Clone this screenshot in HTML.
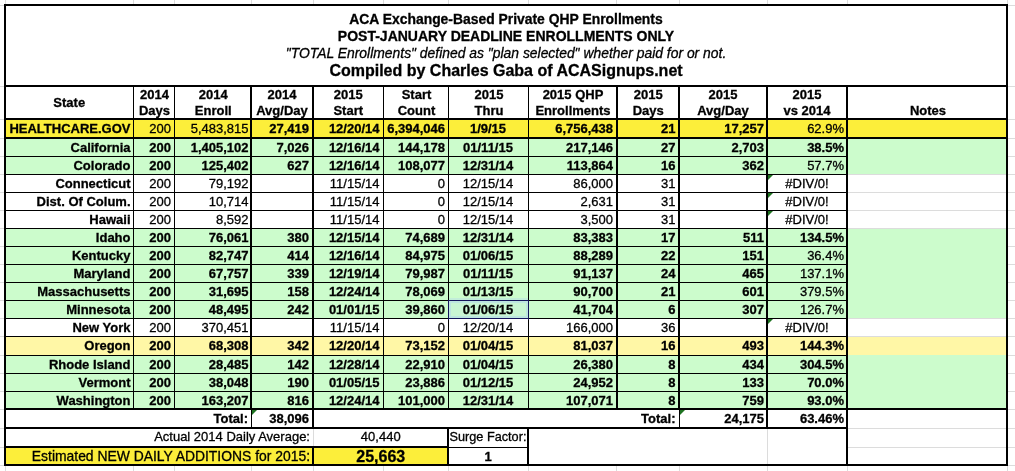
<!DOCTYPE html>
<html><head><meta charset="utf-8"><style>
html,body{margin:0;padding:0;background:#fff;width:1015px;height:471px;overflow:hidden}
body{position:relative;font-family:"Liberation Sans", sans-serif;color:#000}
body>div{position:absolute;box-sizing:content-box}
.t{white-space:nowrap;overflow:visible;will-change:transform;-webkit-text-stroke:0.3px #000}
</style></head><body>
<div style="left:0px;top:5px;width:4px;height:1px;background:#dcdcdc"></div>
<div style="left:1008px;top:5px;width:7px;height:1px;background:#dcdcdc"></div>
<div style="left:0px;top:86px;width:4px;height:1px;background:#dcdcdc"></div>
<div style="left:1008px;top:86px;width:7px;height:1px;background:#dcdcdc"></div>
<div style="left:0px;top:119px;width:4px;height:1px;background:#dcdcdc"></div>
<div style="left:1008px;top:119px;width:7px;height:1px;background:#dcdcdc"></div>
<div style="left:0px;top:138px;width:4px;height:1px;background:#dcdcdc"></div>
<div style="left:1008px;top:138px;width:7px;height:1px;background:#dcdcdc"></div>
<div style="left:0px;top:156px;width:4px;height:1px;background:#dcdcdc"></div>
<div style="left:1008px;top:156px;width:7px;height:1px;background:#dcdcdc"></div>
<div style="left:0px;top:174px;width:4px;height:1px;background:#dcdcdc"></div>
<div style="left:1008px;top:174px;width:7px;height:1px;background:#dcdcdc"></div>
<div style="left:0px;top:192px;width:4px;height:1px;background:#dcdcdc"></div>
<div style="left:1008px;top:192px;width:7px;height:1px;background:#dcdcdc"></div>
<div style="left:0px;top:210px;width:4px;height:1px;background:#dcdcdc"></div>
<div style="left:1008px;top:210px;width:7px;height:1px;background:#dcdcdc"></div>
<div style="left:0px;top:228px;width:4px;height:1px;background:#dcdcdc"></div>
<div style="left:1008px;top:228px;width:7px;height:1px;background:#dcdcdc"></div>
<div style="left:0px;top:246px;width:4px;height:1px;background:#dcdcdc"></div>
<div style="left:1008px;top:246px;width:7px;height:1px;background:#dcdcdc"></div>
<div style="left:0px;top:264px;width:4px;height:1px;background:#dcdcdc"></div>
<div style="left:1008px;top:264px;width:7px;height:1px;background:#dcdcdc"></div>
<div style="left:0px;top:282px;width:4px;height:1px;background:#dcdcdc"></div>
<div style="left:1008px;top:282px;width:7px;height:1px;background:#dcdcdc"></div>
<div style="left:0px;top:300px;width:4px;height:1px;background:#dcdcdc"></div>
<div style="left:1008px;top:300px;width:7px;height:1px;background:#dcdcdc"></div>
<div style="left:0px;top:318px;width:4px;height:1px;background:#dcdcdc"></div>
<div style="left:1008px;top:318px;width:7px;height:1px;background:#dcdcdc"></div>
<div style="left:0px;top:336px;width:4px;height:1px;background:#dcdcdc"></div>
<div style="left:1008px;top:336px;width:7px;height:1px;background:#dcdcdc"></div>
<div style="left:0px;top:355px;width:4px;height:1px;background:#dcdcdc"></div>
<div style="left:1008px;top:355px;width:7px;height:1px;background:#dcdcdc"></div>
<div style="left:0px;top:373px;width:4px;height:1px;background:#dcdcdc"></div>
<div style="left:1008px;top:373px;width:7px;height:1px;background:#dcdcdc"></div>
<div style="left:0px;top:391px;width:4px;height:1px;background:#dcdcdc"></div>
<div style="left:1008px;top:391px;width:7px;height:1px;background:#dcdcdc"></div>
<div style="left:0px;top:409px;width:4px;height:1px;background:#dcdcdc"></div>
<div style="left:1008px;top:409px;width:7px;height:1px;background:#dcdcdc"></div>
<div style="left:0px;top:428px;width:4px;height:1px;background:#dcdcdc"></div>
<div style="left:1008px;top:428px;width:7px;height:1px;background:#dcdcdc"></div>
<div style="left:0px;top:447px;width:4px;height:1px;background:#dcdcdc"></div>
<div style="left:1008px;top:447px;width:7px;height:1px;background:#dcdcdc"></div>
<div style="left:0px;top:465px;width:4px;height:1px;background:#dcdcdc"></div>
<div style="left:1008px;top:465px;width:7px;height:1px;background:#dcdcdc"></div>
<div style="left:5px;top:0px;width:1px;height:4px;background:#dcdcdc"></div>
<div style="left:5px;top:466px;width:1px;height:5px;background:#dcdcdc"></div>
<div style="left:133px;top:0px;width:1px;height:4px;background:#dcdcdc"></div>
<div style="left:133px;top:466px;width:1px;height:5px;background:#dcdcdc"></div>
<div style="left:174px;top:0px;width:1px;height:4px;background:#dcdcdc"></div>
<div style="left:174px;top:466px;width:1px;height:5px;background:#dcdcdc"></div>
<div style="left:251px;top:0px;width:1px;height:4px;background:#dcdcdc"></div>
<div style="left:251px;top:466px;width:1px;height:5px;background:#dcdcdc"></div>
<div style="left:313px;top:0px;width:1px;height:4px;background:#dcdcdc"></div>
<div style="left:313px;top:466px;width:1px;height:5px;background:#dcdcdc"></div>
<div style="left:383px;top:0px;width:1px;height:4px;background:#dcdcdc"></div>
<div style="left:383px;top:466px;width:1px;height:5px;background:#dcdcdc"></div>
<div style="left:448px;top:0px;width:1px;height:4px;background:#dcdcdc"></div>
<div style="left:448px;top:466px;width:1px;height:5px;background:#dcdcdc"></div>
<div style="left:528px;top:0px;width:1px;height:4px;background:#dcdcdc"></div>
<div style="left:528px;top:466px;width:1px;height:5px;background:#dcdcdc"></div>
<div style="left:616px;top:0px;width:1px;height:4px;background:#dcdcdc"></div>
<div style="left:616px;top:466px;width:1px;height:5px;background:#dcdcdc"></div>
<div style="left:679px;top:0px;width:1px;height:4px;background:#dcdcdc"></div>
<div style="left:679px;top:466px;width:1px;height:5px;background:#dcdcdc"></div>
<div style="left:767px;top:0px;width:1px;height:4px;background:#dcdcdc"></div>
<div style="left:767px;top:466px;width:1px;height:5px;background:#dcdcdc"></div>
<div style="left:847px;top:0px;width:1px;height:4px;background:#dcdcdc"></div>
<div style="left:847px;top:466px;width:1px;height:5px;background:#dcdcdc"></div>
<div style="left:1007px;top:0px;width:1px;height:4px;background:#dcdcdc"></div>
<div style="left:1007px;top:466px;width:1px;height:5px;background:#dcdcdc"></div>
<div style="left:5.00px;top:5.00px;width:1002.00px;height:81.00px;background:#ffffff"></div>
<div class="t" style="left:5.00px;top:10.00px;width:1002.00px;height:18.00px;line-height:18.00px;text-align:center;font-weight:bold;font-style:normal;font-size:13.9px">ACA Exchange-Based Private QHP Enrollments</div>
<div class="t" style="left:5.00px;top:27.00px;width:1002.00px;height:18.00px;line-height:18.00px;text-align:center;font-weight:bold;font-style:normal;font-size:14px">POST-JANUARY DEADLINE ENROLLMENTS ONLY</div>
<div class="t" style="left:5.00px;top:43.70px;width:1002.00px;height:18.00px;line-height:18.00px;text-align:center;font-weight:normal;font-style:italic;font-size:13.9px">&quot;TOTAL Enrollments&quot; defined as &quot;plan selected&quot; whether paid for or not.</div>
<div class="t" style="left:5.00px;top:61.00px;width:1002.00px;height:20.00px;line-height:20.00px;text-align:center;font-weight:bold;font-style:normal;font-size:16px">Compiled by Charles Gaba of ACASignups.net</div>
<div style="left:5.00px;top:86.00px;width:1002.00px;height:33.00px;background:#ffffff"></div>
<div class="t" style="left:5.00px;top:86.00px;width:128.50px;height:33.00px;line-height:33.00px;text-align:center;font-weight:bold;font-style:normal;font-size:13px;color:#000">State</div>
<div class="t" style="left:133.50px;top:87.00px;width:41.00px;height:16.00px;line-height:16.00px;text-align:center;font-weight:bold;font-style:normal;font-size:13px;color:#000">2014</div>
<div class="t" style="left:133.50px;top:102.50px;width:41.00px;height:16.50px;line-height:16.50px;text-align:center;font-weight:bold;font-style:normal;font-size:13px;color:#000">Days</div>
<div class="t" style="left:174.50px;top:87.00px;width:76.50px;height:16.00px;line-height:16.00px;text-align:center;font-weight:bold;font-style:normal;font-size:13px;color:#000">2014</div>
<div class="t" style="left:174.50px;top:102.50px;width:76.50px;height:16.50px;line-height:16.50px;text-align:center;font-weight:bold;font-style:normal;font-size:13px;color:#000">Enroll</div>
<div class="t" style="left:251.00px;top:87.00px;width:62.00px;height:16.00px;line-height:16.00px;text-align:center;font-weight:bold;font-style:normal;font-size:13px;color:#000">2014</div>
<div class="t" style="left:251.00px;top:102.50px;width:62.00px;height:16.50px;line-height:16.50px;text-align:center;font-weight:bold;font-style:normal;font-size:13px;color:#000">Avg/Day</div>
<div class="t" style="left:313.00px;top:87.00px;width:70.50px;height:16.00px;line-height:16.00px;text-align:center;font-weight:bold;font-style:normal;font-size:13px;color:#000">2015</div>
<div class="t" style="left:313.00px;top:102.50px;width:70.50px;height:16.50px;line-height:16.50px;text-align:center;font-weight:bold;font-style:normal;font-size:13px;color:#000">Start</div>
<div class="t" style="left:383.50px;top:87.00px;width:65.00px;height:16.00px;line-height:16.00px;text-align:center;font-weight:bold;font-style:normal;font-size:13px;color:#000">Start</div>
<div class="t" style="left:383.50px;top:102.50px;width:65.00px;height:16.50px;line-height:16.50px;text-align:center;font-weight:bold;font-style:normal;font-size:13px;color:#000">Count</div>
<div class="t" style="left:448.50px;top:87.00px;width:80.00px;height:16.00px;line-height:16.00px;text-align:center;font-weight:bold;font-style:normal;font-size:13px;color:#000">2015</div>
<div class="t" style="left:448.50px;top:102.50px;width:80.00px;height:16.50px;line-height:16.50px;text-align:center;font-weight:bold;font-style:normal;font-size:13px;color:#000">Thru</div>
<div class="t" style="left:528.50px;top:87.00px;width:88.00px;height:16.00px;line-height:16.00px;text-align:center;font-weight:bold;font-style:normal;font-size:13px;color:#000">2015 QHP</div>
<div class="t" style="left:528.50px;top:102.50px;width:88.00px;height:16.50px;line-height:16.50px;text-align:center;font-weight:bold;font-style:normal;font-size:13px;color:#000">Enrollments</div>
<div class="t" style="left:616.50px;top:87.00px;width:62.50px;height:16.00px;line-height:16.00px;text-align:center;font-weight:bold;font-style:normal;font-size:13px;color:#000">2015</div>
<div class="t" style="left:616.50px;top:102.50px;width:62.50px;height:16.50px;line-height:16.50px;text-align:center;font-weight:bold;font-style:normal;font-size:13px;color:#000">Days</div>
<div class="t" style="left:679.00px;top:87.00px;width:88.00px;height:16.00px;line-height:16.00px;text-align:center;font-weight:bold;font-style:normal;font-size:13px;color:#000">2015</div>
<div class="t" style="left:679.00px;top:102.50px;width:88.00px;height:16.50px;line-height:16.50px;text-align:center;font-weight:bold;font-style:normal;font-size:13px;color:#000">Avg/Day</div>
<div class="t" style="left:767.00px;top:87.00px;width:80.00px;height:16.00px;line-height:16.00px;text-align:center;font-weight:bold;font-style:normal;font-size:13px;color:#000">2015</div>
<div class="t" style="left:767.00px;top:102.50px;width:80.00px;height:16.50px;line-height:16.50px;text-align:center;font-weight:bold;font-style:normal;font-size:13px;color:#000">vs 2014</div>
<div class="t" style="left:847.00px;top:87.00px;width:160.00px;height:16.00px;line-height:16.00px;text-align:center;font-weight:bold;font-style:normal;font-size:13px;color:#000"></div>
<div class="t" style="left:848.00px;top:102.50px;width:160.00px;height:16.50px;line-height:16.50px;text-align:center;font-weight:bold;font-style:normal;font-size:13px;color:#000">Notes</div>
<div style="left:5.00px;top:119.00px;width:1002.00px;height:19.00px;background:#fcee3a"></div>
<div class="t" style="left:5.00px;top:119.50px;width:125.50px;height:18.00px;line-height:18.00px;text-align:right;font-weight:bold;font-style:normal;font-size:13px;padding-right:3px;color:#000">HEALTHCARE.GOV</div>
<div class="t" style="left:133.50px;top:119.50px;width:37.00px;height:18.00px;line-height:18.00px;text-align:right;font-weight:normal;font-style:normal;font-size:13px;padding-right:4px;color:#000">200</div>
<div class="t" style="left:174.50px;top:119.50px;width:73.50px;height:18.00px;line-height:18.00px;text-align:right;font-weight:normal;font-style:normal;font-size:13px;padding-right:3px;color:#000">5,483,815</div>
<div class="t" style="left:251.00px;top:119.50px;width:58.00px;height:18.00px;line-height:18.00px;text-align:right;font-weight:bold;font-style:normal;font-size:13px;padding-right:4px;color:#000">27,419</div>
<div class="t" style="left:313.00px;top:119.50px;width:66.50px;height:18.00px;line-height:18.00px;text-align:right;font-weight:bold;font-style:normal;font-size:13px;padding-right:4px;color:#000">12/20/14</div>
<div class="t" style="left:383.50px;top:119.50px;width:61.00px;height:18.00px;line-height:18.00px;text-align:right;font-weight:bold;font-style:normal;font-size:13px;padding-right:4px;color:#000">6,394,046</div>
<div class="t" style="left:447.50px;top:119.50px;width:80.00px;height:18.00px;line-height:18.00px;text-align:center;font-weight:bold;font-style:normal;font-size:13px;color:#000">1/9/15</div>
<div class="t" style="left:528.50px;top:119.50px;width:84.00px;height:18.00px;line-height:18.00px;text-align:right;font-weight:bold;font-style:normal;font-size:13px;padding-right:4px;color:#000">6,756,438</div>
<div class="t" style="left:616.50px;top:119.50px;width:58.50px;height:18.00px;line-height:18.00px;text-align:right;font-weight:bold;font-style:normal;font-size:13px;padding-right:4px;color:#000">21</div>
<div class="t" style="left:679.00px;top:119.50px;width:85.00px;height:18.00px;line-height:18.00px;text-align:right;font-weight:bold;font-style:normal;font-size:13px;padding-right:3px;color:#000">17,257</div>
<div class="t" style="left:767.00px;top:119.50px;width:77.00px;height:18.00px;line-height:18.00px;text-align:right;font-weight:normal;font-style:normal;font-size:13px;padding-right:3px;color:#000">62.9%</div>
<div style="left:5.00px;top:138.00px;width:1002.00px;height:18.09px;background:#ccfccc"></div>
<div class="t" style="left:5.00px;top:138.50px;width:125.50px;height:18.00px;line-height:18.00px;text-align:right;font-weight:bold;font-style:normal;font-size:13px;padding-right:3px;color:#000">California</div>
<div class="t" style="left:133.50px;top:138.50px;width:37.00px;height:18.00px;line-height:18.00px;text-align:right;font-weight:bold;font-style:normal;font-size:13px;padding-right:4px;color:#000">200</div>
<div class="t" style="left:174.50px;top:138.50px;width:73.50px;height:18.00px;line-height:18.00px;text-align:right;font-weight:bold;font-style:normal;font-size:13px;padding-right:3px;color:#000">1,405,102</div>
<div class="t" style="left:251.00px;top:138.50px;width:58.00px;height:18.00px;line-height:18.00px;text-align:right;font-weight:bold;font-style:normal;font-size:13px;padding-right:4px;color:#000">7,026</div>
<div class="t" style="left:313.00px;top:138.50px;width:66.50px;height:18.00px;line-height:18.00px;text-align:right;font-weight:bold;font-style:normal;font-size:13px;padding-right:4px;color:#000">12/16/14</div>
<div class="t" style="left:383.50px;top:138.50px;width:61.00px;height:18.00px;line-height:18.00px;text-align:right;font-weight:bold;font-style:normal;font-size:13px;padding-right:4px;color:#000">144,178</div>
<div class="t" style="left:447.50px;top:138.50px;width:80.00px;height:18.00px;line-height:18.00px;text-align:center;font-weight:bold;font-style:normal;font-size:13px;color:#000">01/11/15</div>
<div class="t" style="left:528.50px;top:138.50px;width:84.00px;height:18.00px;line-height:18.00px;text-align:right;font-weight:bold;font-style:normal;font-size:13px;padding-right:4px;color:#000">217,146</div>
<div class="t" style="left:616.50px;top:138.50px;width:58.50px;height:18.00px;line-height:18.00px;text-align:right;font-weight:bold;font-style:normal;font-size:13px;padding-right:4px;color:#000">27</div>
<div class="t" style="left:679.00px;top:138.50px;width:85.00px;height:18.00px;line-height:18.00px;text-align:right;font-weight:bold;font-style:normal;font-size:13px;padding-right:3px;color:#000">2,703</div>
<div class="t" style="left:767.00px;top:138.50px;width:77.00px;height:18.00px;line-height:18.00px;text-align:right;font-weight:bold;font-style:normal;font-size:13px;padding-right:3px;color:#000">38.5%</div>
<div style="left:5.00px;top:156.09px;width:1002.00px;height:18.09px;background:#ccfccc"></div>
<div class="t" style="left:5.00px;top:156.59px;width:125.50px;height:18.00px;line-height:18.00px;text-align:right;font-weight:bold;font-style:normal;font-size:13px;padding-right:3px;color:#000">Colorado</div>
<div class="t" style="left:133.50px;top:156.59px;width:37.00px;height:18.00px;line-height:18.00px;text-align:right;font-weight:bold;font-style:normal;font-size:13px;padding-right:4px;color:#000">200</div>
<div class="t" style="left:174.50px;top:156.59px;width:73.50px;height:18.00px;line-height:18.00px;text-align:right;font-weight:bold;font-style:normal;font-size:13px;padding-right:3px;color:#000">125,402</div>
<div class="t" style="left:251.00px;top:156.59px;width:58.00px;height:18.00px;line-height:18.00px;text-align:right;font-weight:bold;font-style:normal;font-size:13px;padding-right:4px;color:#000">627</div>
<div class="t" style="left:313.00px;top:156.59px;width:66.50px;height:18.00px;line-height:18.00px;text-align:right;font-weight:bold;font-style:normal;font-size:13px;padding-right:4px;color:#000">12/16/14</div>
<div class="t" style="left:383.50px;top:156.59px;width:61.00px;height:18.00px;line-height:18.00px;text-align:right;font-weight:bold;font-style:normal;font-size:13px;padding-right:4px;color:#000">108,077</div>
<div class="t" style="left:447.50px;top:156.59px;width:80.00px;height:18.00px;line-height:18.00px;text-align:center;font-weight:bold;font-style:normal;font-size:13px;color:#000">12/31/14</div>
<div class="t" style="left:528.50px;top:156.59px;width:84.00px;height:18.00px;line-height:18.00px;text-align:right;font-weight:bold;font-style:normal;font-size:13px;padding-right:4px;color:#000">113,864</div>
<div class="t" style="left:616.50px;top:156.59px;width:58.50px;height:18.00px;line-height:18.00px;text-align:right;font-weight:bold;font-style:normal;font-size:13px;padding-right:4px;color:#000">16</div>
<div class="t" style="left:679.00px;top:156.59px;width:85.00px;height:18.00px;line-height:18.00px;text-align:right;font-weight:bold;font-style:normal;font-size:13px;padding-right:3px;color:#000">362</div>
<div class="t" style="left:767.00px;top:156.59px;width:77.00px;height:18.00px;line-height:18.00px;text-align:right;font-weight:normal;font-style:normal;font-size:13px;padding-right:3px;color:#000">57.7%</div>
<div style="left:5.00px;top:174.18px;width:1002.00px;height:18.09px;background:#ffffff"></div>
<div class="t" style="left:5.00px;top:174.68px;width:125.50px;height:18.00px;line-height:18.00px;text-align:right;font-weight:bold;font-style:normal;font-size:13px;padding-right:3px;color:#000">Connecticut</div>
<div class="t" style="left:133.50px;top:174.68px;width:37.00px;height:18.00px;line-height:18.00px;text-align:right;font-weight:normal;font-style:normal;font-size:13px;padding-right:4px;color:#000">200</div>
<div class="t" style="left:174.50px;top:174.68px;width:73.50px;height:18.00px;line-height:18.00px;text-align:right;font-weight:normal;font-style:normal;font-size:13px;padding-right:3px;color:#000">79,192</div>
<div class="t" style="left:313.00px;top:174.68px;width:66.50px;height:18.00px;line-height:18.00px;text-align:right;font-weight:normal;font-style:normal;font-size:13px;padding-right:4px;color:#000">11/15/14</div>
<div class="t" style="left:383.50px;top:174.68px;width:61.00px;height:18.00px;line-height:18.00px;text-align:right;font-weight:normal;font-style:normal;font-size:13px;padding-right:4px;color:#000">0</div>
<div class="t" style="left:447.50px;top:174.68px;width:80.00px;height:18.00px;line-height:18.00px;text-align:center;font-weight:normal;font-style:normal;font-size:13px;color:#000">12/15/14</div>
<div class="t" style="left:528.50px;top:174.68px;width:84.00px;height:18.00px;line-height:18.00px;text-align:right;font-weight:normal;font-style:normal;font-size:13px;padding-right:4px;color:#000">86,000</div>
<div class="t" style="left:616.50px;top:174.68px;width:58.50px;height:18.00px;line-height:18.00px;text-align:right;font-weight:normal;font-style:normal;font-size:13px;padding-right:4px;color:#000">31</div>
<div class="t" style="left:767.00px;top:174.68px;width:80.00px;height:18.00px;line-height:18.00px;text-align:center;font-weight:normal;font-style:normal;font-size:13px;color:#000">#DIV/0!</div>
<div style="left:768.00px;top:174.68px;width:0;height:0;border-top:5px solid #1e7321;border-right:5px solid transparent"></div>
<div style="left:5.00px;top:192.27px;width:1002.00px;height:18.09px;background:#ffffff"></div>
<div class="t" style="left:5.00px;top:192.77px;width:125.50px;height:18.00px;line-height:18.00px;text-align:right;font-weight:bold;font-style:normal;font-size:13px;padding-right:3px;color:#000">Dist. Of Colum.</div>
<div class="t" style="left:133.50px;top:192.77px;width:37.00px;height:18.00px;line-height:18.00px;text-align:right;font-weight:normal;font-style:normal;font-size:13px;padding-right:4px;color:#000">200</div>
<div class="t" style="left:174.50px;top:192.77px;width:73.50px;height:18.00px;line-height:18.00px;text-align:right;font-weight:normal;font-style:normal;font-size:13px;padding-right:3px;color:#000">10,714</div>
<div class="t" style="left:313.00px;top:192.77px;width:66.50px;height:18.00px;line-height:18.00px;text-align:right;font-weight:normal;font-style:normal;font-size:13px;padding-right:4px;color:#000">11/15/14</div>
<div class="t" style="left:383.50px;top:192.77px;width:61.00px;height:18.00px;line-height:18.00px;text-align:right;font-weight:normal;font-style:normal;font-size:13px;padding-right:4px;color:#000">0</div>
<div class="t" style="left:447.50px;top:192.77px;width:80.00px;height:18.00px;line-height:18.00px;text-align:center;font-weight:normal;font-style:normal;font-size:13px;color:#000">12/15/14</div>
<div class="t" style="left:528.50px;top:192.77px;width:84.00px;height:18.00px;line-height:18.00px;text-align:right;font-weight:normal;font-style:normal;font-size:13px;padding-right:4px;color:#000">2,631</div>
<div class="t" style="left:616.50px;top:192.77px;width:58.50px;height:18.00px;line-height:18.00px;text-align:right;font-weight:normal;font-style:normal;font-size:13px;padding-right:4px;color:#000">31</div>
<div class="t" style="left:767.00px;top:192.77px;width:80.00px;height:18.00px;line-height:18.00px;text-align:center;font-weight:normal;font-style:normal;font-size:13px;color:#000">#DIV/0!</div>
<div style="left:768.00px;top:192.77px;width:0;height:0;border-top:5px solid #1e7321;border-right:5px solid transparent"></div>
<div style="left:5.00px;top:210.36px;width:1002.00px;height:18.09px;background:#ffffff"></div>
<div class="t" style="left:5.00px;top:210.86px;width:125.50px;height:18.00px;line-height:18.00px;text-align:right;font-weight:bold;font-style:normal;font-size:13px;padding-right:3px;color:#000">Hawaii</div>
<div class="t" style="left:133.50px;top:210.86px;width:37.00px;height:18.00px;line-height:18.00px;text-align:right;font-weight:normal;font-style:normal;font-size:13px;padding-right:4px;color:#000">200</div>
<div class="t" style="left:174.50px;top:210.86px;width:73.50px;height:18.00px;line-height:18.00px;text-align:right;font-weight:normal;font-style:normal;font-size:13px;padding-right:3px;color:#000">8,592</div>
<div class="t" style="left:313.00px;top:210.86px;width:66.50px;height:18.00px;line-height:18.00px;text-align:right;font-weight:normal;font-style:normal;font-size:13px;padding-right:4px;color:#000">11/15/14</div>
<div class="t" style="left:383.50px;top:210.86px;width:61.00px;height:18.00px;line-height:18.00px;text-align:right;font-weight:normal;font-style:normal;font-size:13px;padding-right:4px;color:#000">0</div>
<div class="t" style="left:447.50px;top:210.86px;width:80.00px;height:18.00px;line-height:18.00px;text-align:center;font-weight:normal;font-style:normal;font-size:13px;color:#000">12/15/14</div>
<div class="t" style="left:528.50px;top:210.86px;width:84.00px;height:18.00px;line-height:18.00px;text-align:right;font-weight:normal;font-style:normal;font-size:13px;padding-right:4px;color:#000">3,500</div>
<div class="t" style="left:616.50px;top:210.86px;width:58.50px;height:18.00px;line-height:18.00px;text-align:right;font-weight:normal;font-style:normal;font-size:13px;padding-right:4px;color:#000">31</div>
<div class="t" style="left:767.00px;top:210.86px;width:80.00px;height:18.00px;line-height:18.00px;text-align:center;font-weight:normal;font-style:normal;font-size:13px;color:#000">#DIV/0!</div>
<div style="left:768.00px;top:210.86px;width:0;height:0;border-top:5px solid #1e7321;border-right:5px solid transparent"></div>
<div style="left:5.00px;top:228.45px;width:1002.00px;height:18.09px;background:#ccfccc"></div>
<div class="t" style="left:5.00px;top:228.95px;width:125.50px;height:18.00px;line-height:18.00px;text-align:right;font-weight:bold;font-style:normal;font-size:13px;padding-right:3px;color:#000">Idaho</div>
<div class="t" style="left:133.50px;top:228.95px;width:37.00px;height:18.00px;line-height:18.00px;text-align:right;font-weight:bold;font-style:normal;font-size:13px;padding-right:4px;color:#000">200</div>
<div class="t" style="left:174.50px;top:228.95px;width:73.50px;height:18.00px;line-height:18.00px;text-align:right;font-weight:bold;font-style:normal;font-size:13px;padding-right:3px;color:#000">76,061</div>
<div class="t" style="left:251.00px;top:228.95px;width:58.00px;height:18.00px;line-height:18.00px;text-align:right;font-weight:bold;font-style:normal;font-size:13px;padding-right:4px;color:#000">380</div>
<div class="t" style="left:313.00px;top:228.95px;width:66.50px;height:18.00px;line-height:18.00px;text-align:right;font-weight:bold;font-style:normal;font-size:13px;padding-right:4px;color:#000">12/15/14</div>
<div class="t" style="left:383.50px;top:228.95px;width:61.00px;height:18.00px;line-height:18.00px;text-align:right;font-weight:bold;font-style:normal;font-size:13px;padding-right:4px;color:#000">74,689</div>
<div class="t" style="left:447.50px;top:228.95px;width:80.00px;height:18.00px;line-height:18.00px;text-align:center;font-weight:bold;font-style:normal;font-size:13px;color:#000">12/31/14</div>
<div class="t" style="left:528.50px;top:228.95px;width:84.00px;height:18.00px;line-height:18.00px;text-align:right;font-weight:bold;font-style:normal;font-size:13px;padding-right:4px;color:#000">83,383</div>
<div class="t" style="left:616.50px;top:228.95px;width:58.50px;height:18.00px;line-height:18.00px;text-align:right;font-weight:bold;font-style:normal;font-size:13px;padding-right:4px;color:#000">17</div>
<div class="t" style="left:679.00px;top:228.95px;width:85.00px;height:18.00px;line-height:18.00px;text-align:right;font-weight:bold;font-style:normal;font-size:13px;padding-right:3px;color:#000">511</div>
<div class="t" style="left:767.00px;top:228.95px;width:77.00px;height:18.00px;line-height:18.00px;text-align:right;font-weight:bold;font-style:normal;font-size:13px;padding-right:3px;color:#000">134.5%</div>
<div style="left:5.00px;top:246.54px;width:1002.00px;height:18.09px;background:#ccfccc"></div>
<div class="t" style="left:5.00px;top:247.04px;width:125.50px;height:18.00px;line-height:18.00px;text-align:right;font-weight:bold;font-style:normal;font-size:13px;padding-right:3px;color:#000">Kentucky</div>
<div class="t" style="left:133.50px;top:247.04px;width:37.00px;height:18.00px;line-height:18.00px;text-align:right;font-weight:bold;font-style:normal;font-size:13px;padding-right:4px;color:#000">200</div>
<div class="t" style="left:174.50px;top:247.04px;width:73.50px;height:18.00px;line-height:18.00px;text-align:right;font-weight:bold;font-style:normal;font-size:13px;padding-right:3px;color:#000">82,747</div>
<div class="t" style="left:251.00px;top:247.04px;width:58.00px;height:18.00px;line-height:18.00px;text-align:right;font-weight:bold;font-style:normal;font-size:13px;padding-right:4px;color:#000">414</div>
<div class="t" style="left:313.00px;top:247.04px;width:66.50px;height:18.00px;line-height:18.00px;text-align:right;font-weight:bold;font-style:normal;font-size:13px;padding-right:4px;color:#000">12/16/14</div>
<div class="t" style="left:383.50px;top:247.04px;width:61.00px;height:18.00px;line-height:18.00px;text-align:right;font-weight:bold;font-style:normal;font-size:13px;padding-right:4px;color:#000">84,975</div>
<div class="t" style="left:447.50px;top:247.04px;width:80.00px;height:18.00px;line-height:18.00px;text-align:center;font-weight:bold;font-style:normal;font-size:13px;color:#000">01/06/15</div>
<div class="t" style="left:528.50px;top:247.04px;width:84.00px;height:18.00px;line-height:18.00px;text-align:right;font-weight:bold;font-style:normal;font-size:13px;padding-right:4px;color:#000">88,289</div>
<div class="t" style="left:616.50px;top:247.04px;width:58.50px;height:18.00px;line-height:18.00px;text-align:right;font-weight:bold;font-style:normal;font-size:13px;padding-right:4px;color:#000">22</div>
<div class="t" style="left:679.00px;top:247.04px;width:85.00px;height:18.00px;line-height:18.00px;text-align:right;font-weight:bold;font-style:normal;font-size:13px;padding-right:3px;color:#000">151</div>
<div class="t" style="left:767.00px;top:247.04px;width:77.00px;height:18.00px;line-height:18.00px;text-align:right;font-weight:normal;font-style:normal;font-size:13px;padding-right:3px;color:#000">36.4%</div>
<div style="left:5.00px;top:264.63px;width:1002.00px;height:18.09px;background:#ccfccc"></div>
<div class="t" style="left:5.00px;top:265.13px;width:125.50px;height:18.00px;line-height:18.00px;text-align:right;font-weight:bold;font-style:normal;font-size:13px;padding-right:3px;color:#000">Maryland</div>
<div class="t" style="left:133.50px;top:265.13px;width:37.00px;height:18.00px;line-height:18.00px;text-align:right;font-weight:bold;font-style:normal;font-size:13px;padding-right:4px;color:#000">200</div>
<div class="t" style="left:174.50px;top:265.13px;width:73.50px;height:18.00px;line-height:18.00px;text-align:right;font-weight:bold;font-style:normal;font-size:13px;padding-right:3px;color:#000">67,757</div>
<div class="t" style="left:251.00px;top:265.13px;width:58.00px;height:18.00px;line-height:18.00px;text-align:right;font-weight:bold;font-style:normal;font-size:13px;padding-right:4px;color:#000">339</div>
<div class="t" style="left:313.00px;top:265.13px;width:66.50px;height:18.00px;line-height:18.00px;text-align:right;font-weight:bold;font-style:normal;font-size:13px;padding-right:4px;color:#000">12/19/14</div>
<div class="t" style="left:383.50px;top:265.13px;width:61.00px;height:18.00px;line-height:18.00px;text-align:right;font-weight:bold;font-style:normal;font-size:13px;padding-right:4px;color:#000">79,987</div>
<div class="t" style="left:447.50px;top:265.13px;width:80.00px;height:18.00px;line-height:18.00px;text-align:center;font-weight:bold;font-style:normal;font-size:13px;color:#000">01/11/15</div>
<div class="t" style="left:528.50px;top:265.13px;width:84.00px;height:18.00px;line-height:18.00px;text-align:right;font-weight:bold;font-style:normal;font-size:13px;padding-right:4px;color:#000">91,137</div>
<div class="t" style="left:616.50px;top:265.13px;width:58.50px;height:18.00px;line-height:18.00px;text-align:right;font-weight:bold;font-style:normal;font-size:13px;padding-right:4px;color:#000">24</div>
<div class="t" style="left:679.00px;top:265.13px;width:85.00px;height:18.00px;line-height:18.00px;text-align:right;font-weight:bold;font-style:normal;font-size:13px;padding-right:3px;color:#000">465</div>
<div class="t" style="left:767.00px;top:265.13px;width:77.00px;height:18.00px;line-height:18.00px;text-align:right;font-weight:normal;font-style:normal;font-size:13px;padding-right:3px;color:#000">137.1%</div>
<div style="left:5.00px;top:282.72px;width:1002.00px;height:18.09px;background:#ccfccc"></div>
<div style="left:449px;top:298px;width:79px;height:2px;background:rgba(175,210,240,0.35)"></div>
<div class="t" style="left:5.00px;top:283.22px;width:125.50px;height:18.00px;line-height:18.00px;text-align:right;font-weight:bold;font-style:normal;font-size:13px;padding-right:3px;color:#000">Massachusetts</div>
<div class="t" style="left:133.50px;top:283.22px;width:37.00px;height:18.00px;line-height:18.00px;text-align:right;font-weight:bold;font-style:normal;font-size:13px;padding-right:4px;color:#000">200</div>
<div class="t" style="left:174.50px;top:283.22px;width:73.50px;height:18.00px;line-height:18.00px;text-align:right;font-weight:bold;font-style:normal;font-size:13px;padding-right:3px;color:#000">31,695</div>
<div class="t" style="left:251.00px;top:283.22px;width:58.00px;height:18.00px;line-height:18.00px;text-align:right;font-weight:bold;font-style:normal;font-size:13px;padding-right:4px;color:#000">158</div>
<div class="t" style="left:313.00px;top:283.22px;width:66.50px;height:18.00px;line-height:18.00px;text-align:right;font-weight:bold;font-style:normal;font-size:13px;padding-right:4px;color:#000">12/24/14</div>
<div class="t" style="left:383.50px;top:283.22px;width:61.00px;height:18.00px;line-height:18.00px;text-align:right;font-weight:bold;font-style:normal;font-size:13px;padding-right:4px;color:#000">78,069</div>
<div class="t" style="left:447.50px;top:283.22px;width:80.00px;height:18.00px;line-height:18.00px;text-align:center;font-weight:bold;font-style:normal;font-size:13px;color:#000">01/13/15</div>
<div class="t" style="left:528.50px;top:283.22px;width:84.00px;height:18.00px;line-height:18.00px;text-align:right;font-weight:bold;font-style:normal;font-size:13px;padding-right:4px;color:#000">90,700</div>
<div class="t" style="left:616.50px;top:283.22px;width:58.50px;height:18.00px;line-height:18.00px;text-align:right;font-weight:bold;font-style:normal;font-size:13px;padding-right:4px;color:#000">21</div>
<div class="t" style="left:679.00px;top:283.22px;width:85.00px;height:18.00px;line-height:18.00px;text-align:right;font-weight:bold;font-style:normal;font-size:13px;padding-right:3px;color:#000">601</div>
<div class="t" style="left:767.00px;top:283.22px;width:77.00px;height:18.00px;line-height:18.00px;text-align:right;font-weight:normal;font-style:normal;font-size:13px;padding-right:3px;color:#000">379.5%</div>
<div style="left:5.00px;top:300.81px;width:1002.00px;height:18.09px;background:#ccfccc"></div>
<div style="left:449px;top:301px;width:79px;height:17px;box-sizing:border-box;border:2px solid rgba(175,210,240,0.45);background:rgba(190,220,245,0.18)"></div>
<div class="t" style="left:5.00px;top:301.31px;width:125.50px;height:18.00px;line-height:18.00px;text-align:right;font-weight:bold;font-style:normal;font-size:13px;padding-right:3px;color:#000">Minnesota</div>
<div class="t" style="left:133.50px;top:301.31px;width:37.00px;height:18.00px;line-height:18.00px;text-align:right;font-weight:bold;font-style:normal;font-size:13px;padding-right:4px;color:#000">200</div>
<div class="t" style="left:174.50px;top:301.31px;width:73.50px;height:18.00px;line-height:18.00px;text-align:right;font-weight:bold;font-style:normal;font-size:13px;padding-right:3px;color:#000">48,495</div>
<div class="t" style="left:251.00px;top:301.31px;width:58.00px;height:18.00px;line-height:18.00px;text-align:right;font-weight:bold;font-style:normal;font-size:13px;padding-right:4px;color:#000">242</div>
<div class="t" style="left:313.00px;top:301.31px;width:66.50px;height:18.00px;line-height:18.00px;text-align:right;font-weight:bold;font-style:normal;font-size:13px;padding-right:4px;color:#000">01/01/15</div>
<div class="t" style="left:383.50px;top:301.31px;width:61.00px;height:18.00px;line-height:18.00px;text-align:right;font-weight:bold;font-style:normal;font-size:13px;padding-right:4px;color:#000">39,860</div>
<div class="t" style="left:447.50px;top:301.31px;width:80.00px;height:18.00px;line-height:18.00px;text-align:center;font-weight:bold;font-style:normal;font-size:13px;color:#000">01/06/15</div>
<div class="t" style="left:528.50px;top:301.31px;width:84.00px;height:18.00px;line-height:18.00px;text-align:right;font-weight:bold;font-style:normal;font-size:13px;padding-right:4px;color:#000">41,704</div>
<div class="t" style="left:616.50px;top:301.31px;width:58.50px;height:18.00px;line-height:18.00px;text-align:right;font-weight:bold;font-style:normal;font-size:13px;padding-right:4px;color:#000">6</div>
<div class="t" style="left:679.00px;top:301.31px;width:85.00px;height:18.00px;line-height:18.00px;text-align:right;font-weight:bold;font-style:normal;font-size:13px;padding-right:3px;color:#000">307</div>
<div class="t" style="left:767.00px;top:301.31px;width:77.00px;height:18.00px;line-height:18.00px;text-align:right;font-weight:normal;font-style:normal;font-size:13px;padding-right:3px;color:#000">126.7%</div>
<div style="left:5.00px;top:318.90px;width:1002.00px;height:18.09px;background:#ffffff"></div>
<div class="t" style="left:5.00px;top:319.40px;width:125.50px;height:18.00px;line-height:18.00px;text-align:right;font-weight:bold;font-style:normal;font-size:13px;padding-right:3px;color:#000">New York</div>
<div class="t" style="left:133.50px;top:319.40px;width:37.00px;height:18.00px;line-height:18.00px;text-align:right;font-weight:normal;font-style:normal;font-size:13px;padding-right:4px;color:#000">200</div>
<div class="t" style="left:174.50px;top:319.40px;width:73.50px;height:18.00px;line-height:18.00px;text-align:right;font-weight:normal;font-style:normal;font-size:13px;padding-right:3px;color:#000">370,451</div>
<div class="t" style="left:313.00px;top:319.40px;width:66.50px;height:18.00px;line-height:18.00px;text-align:right;font-weight:normal;font-style:normal;font-size:13px;padding-right:4px;color:#000">11/15/14</div>
<div class="t" style="left:383.50px;top:319.40px;width:61.00px;height:18.00px;line-height:18.00px;text-align:right;font-weight:normal;font-style:normal;font-size:13px;padding-right:4px;color:#000">0</div>
<div class="t" style="left:447.50px;top:319.40px;width:80.00px;height:18.00px;line-height:18.00px;text-align:center;font-weight:normal;font-style:normal;font-size:13px;color:#000">12/20/14</div>
<div class="t" style="left:528.50px;top:319.40px;width:84.00px;height:18.00px;line-height:18.00px;text-align:right;font-weight:normal;font-style:normal;font-size:13px;padding-right:4px;color:#000">166,000</div>
<div class="t" style="left:616.50px;top:319.40px;width:58.50px;height:18.00px;line-height:18.00px;text-align:right;font-weight:normal;font-style:normal;font-size:13px;padding-right:4px;color:#000">36</div>
<div class="t" style="left:767.00px;top:319.40px;width:80.00px;height:18.00px;line-height:18.00px;text-align:center;font-weight:normal;font-style:normal;font-size:13px;color:#000">#DIV/0!</div>
<div style="left:768.00px;top:319.40px;width:0;height:0;border-top:5px solid #1e7321;border-right:5px solid transparent"></div>
<div style="left:5.00px;top:336.99px;width:1002.00px;height:18.09px;background:#fff7a6"></div>
<div class="t" style="left:5.00px;top:337.49px;width:125.50px;height:18.00px;line-height:18.00px;text-align:right;font-weight:bold;font-style:normal;font-size:13px;padding-right:3px;color:#000">Oregon</div>
<div class="t" style="left:133.50px;top:337.49px;width:37.00px;height:18.00px;line-height:18.00px;text-align:right;font-weight:bold;font-style:normal;font-size:13px;padding-right:4px;color:#000">200</div>
<div class="t" style="left:174.50px;top:337.49px;width:73.50px;height:18.00px;line-height:18.00px;text-align:right;font-weight:bold;font-style:normal;font-size:13px;padding-right:3px;color:#000">68,308</div>
<div class="t" style="left:251.00px;top:337.49px;width:58.00px;height:18.00px;line-height:18.00px;text-align:right;font-weight:bold;font-style:normal;font-size:13px;padding-right:4px;color:#000">342</div>
<div class="t" style="left:313.00px;top:337.49px;width:66.50px;height:18.00px;line-height:18.00px;text-align:right;font-weight:bold;font-style:normal;font-size:13px;padding-right:4px;color:#000">12/20/14</div>
<div class="t" style="left:383.50px;top:337.49px;width:61.00px;height:18.00px;line-height:18.00px;text-align:right;font-weight:bold;font-style:normal;font-size:13px;padding-right:4px;color:#000">73,152</div>
<div class="t" style="left:447.50px;top:337.49px;width:80.00px;height:18.00px;line-height:18.00px;text-align:center;font-weight:bold;font-style:normal;font-size:13px;color:#000">01/04/15</div>
<div class="t" style="left:528.50px;top:337.49px;width:84.00px;height:18.00px;line-height:18.00px;text-align:right;font-weight:bold;font-style:normal;font-size:13px;padding-right:4px;color:#000">81,037</div>
<div class="t" style="left:616.50px;top:337.49px;width:58.50px;height:18.00px;line-height:18.00px;text-align:right;font-weight:bold;font-style:normal;font-size:13px;padding-right:4px;color:#000">16</div>
<div class="t" style="left:679.00px;top:337.49px;width:85.00px;height:18.00px;line-height:18.00px;text-align:right;font-weight:bold;font-style:normal;font-size:13px;padding-right:3px;color:#000">493</div>
<div class="t" style="left:767.00px;top:337.49px;width:77.00px;height:18.00px;line-height:18.00px;text-align:right;font-weight:bold;font-style:normal;font-size:13px;padding-right:3px;color:#000">144.3%</div>
<div style="left:5.00px;top:355.08px;width:1002.00px;height:18.09px;background:#ccfccc"></div>
<div class="t" style="left:5.00px;top:355.58px;width:125.50px;height:18.00px;line-height:18.00px;text-align:right;font-weight:bold;font-style:normal;font-size:13px;padding-right:3px;color:#000">Rhode Island</div>
<div class="t" style="left:133.50px;top:355.58px;width:37.00px;height:18.00px;line-height:18.00px;text-align:right;font-weight:bold;font-style:normal;font-size:13px;padding-right:4px;color:#000">200</div>
<div class="t" style="left:174.50px;top:355.58px;width:73.50px;height:18.00px;line-height:18.00px;text-align:right;font-weight:bold;font-style:normal;font-size:13px;padding-right:3px;color:#000">28,485</div>
<div class="t" style="left:251.00px;top:355.58px;width:58.00px;height:18.00px;line-height:18.00px;text-align:right;font-weight:bold;font-style:normal;font-size:13px;padding-right:4px;color:#000">142</div>
<div class="t" style="left:313.00px;top:355.58px;width:66.50px;height:18.00px;line-height:18.00px;text-align:right;font-weight:bold;font-style:normal;font-size:13px;padding-right:4px;color:#000">12/28/14</div>
<div class="t" style="left:383.50px;top:355.58px;width:61.00px;height:18.00px;line-height:18.00px;text-align:right;font-weight:bold;font-style:normal;font-size:13px;padding-right:4px;color:#000">22,910</div>
<div class="t" style="left:447.50px;top:355.58px;width:80.00px;height:18.00px;line-height:18.00px;text-align:center;font-weight:bold;font-style:normal;font-size:13px;color:#000">01/04/15</div>
<div class="t" style="left:528.50px;top:355.58px;width:84.00px;height:18.00px;line-height:18.00px;text-align:right;font-weight:bold;font-style:normal;font-size:13px;padding-right:4px;color:#000">26,380</div>
<div class="t" style="left:616.50px;top:355.58px;width:58.50px;height:18.00px;line-height:18.00px;text-align:right;font-weight:bold;font-style:normal;font-size:13px;padding-right:4px;color:#000">8</div>
<div class="t" style="left:679.00px;top:355.58px;width:85.00px;height:18.00px;line-height:18.00px;text-align:right;font-weight:bold;font-style:normal;font-size:13px;padding-right:3px;color:#000">434</div>
<div class="t" style="left:767.00px;top:355.58px;width:77.00px;height:18.00px;line-height:18.00px;text-align:right;font-weight:bold;font-style:normal;font-size:13px;padding-right:3px;color:#000">304.5%</div>
<div style="left:5.00px;top:373.17px;width:1002.00px;height:18.09px;background:#ccfccc"></div>
<div class="t" style="left:5.00px;top:373.67px;width:125.50px;height:18.00px;line-height:18.00px;text-align:right;font-weight:bold;font-style:normal;font-size:13px;padding-right:3px;color:#000">Vermont</div>
<div class="t" style="left:133.50px;top:373.67px;width:37.00px;height:18.00px;line-height:18.00px;text-align:right;font-weight:bold;font-style:normal;font-size:13px;padding-right:4px;color:#000">200</div>
<div class="t" style="left:174.50px;top:373.67px;width:73.50px;height:18.00px;line-height:18.00px;text-align:right;font-weight:bold;font-style:normal;font-size:13px;padding-right:3px;color:#000">38,048</div>
<div class="t" style="left:251.00px;top:373.67px;width:58.00px;height:18.00px;line-height:18.00px;text-align:right;font-weight:bold;font-style:normal;font-size:13px;padding-right:4px;color:#000">190</div>
<div class="t" style="left:313.00px;top:373.67px;width:66.50px;height:18.00px;line-height:18.00px;text-align:right;font-weight:bold;font-style:normal;font-size:13px;padding-right:4px;color:#000">01/05/15</div>
<div class="t" style="left:383.50px;top:373.67px;width:61.00px;height:18.00px;line-height:18.00px;text-align:right;font-weight:bold;font-style:normal;font-size:13px;padding-right:4px;color:#000">23,886</div>
<div class="t" style="left:447.50px;top:373.67px;width:80.00px;height:18.00px;line-height:18.00px;text-align:center;font-weight:bold;font-style:normal;font-size:13px;color:#000">01/12/15</div>
<div class="t" style="left:528.50px;top:373.67px;width:84.00px;height:18.00px;line-height:18.00px;text-align:right;font-weight:bold;font-style:normal;font-size:13px;padding-right:4px;color:#000">24,952</div>
<div class="t" style="left:616.50px;top:373.67px;width:58.50px;height:18.00px;line-height:18.00px;text-align:right;font-weight:bold;font-style:normal;font-size:13px;padding-right:4px;color:#000">8</div>
<div class="t" style="left:679.00px;top:373.67px;width:85.00px;height:18.00px;line-height:18.00px;text-align:right;font-weight:bold;font-style:normal;font-size:13px;padding-right:3px;color:#000">133</div>
<div class="t" style="left:767.00px;top:373.67px;width:77.00px;height:18.00px;line-height:18.00px;text-align:right;font-weight:bold;font-style:normal;font-size:13px;padding-right:3px;color:#000">70.0%</div>
<div style="left:5.00px;top:391.26px;width:1002.00px;height:18.09px;background:#ccfccc"></div>
<div class="t" style="left:5.00px;top:391.76px;width:125.50px;height:18.00px;line-height:18.00px;text-align:right;font-weight:bold;font-style:normal;font-size:13px;padding-right:3px;color:#000">Washington</div>
<div class="t" style="left:133.50px;top:391.76px;width:37.00px;height:18.00px;line-height:18.00px;text-align:right;font-weight:bold;font-style:normal;font-size:13px;padding-right:4px;color:#000">200</div>
<div class="t" style="left:174.50px;top:391.76px;width:73.50px;height:18.00px;line-height:18.00px;text-align:right;font-weight:bold;font-style:normal;font-size:13px;padding-right:3px;color:#000">163,207</div>
<div class="t" style="left:251.00px;top:391.76px;width:58.00px;height:18.00px;line-height:18.00px;text-align:right;font-weight:bold;font-style:normal;font-size:13px;padding-right:4px;color:#000">816</div>
<div class="t" style="left:313.00px;top:391.76px;width:66.50px;height:18.00px;line-height:18.00px;text-align:right;font-weight:bold;font-style:normal;font-size:13px;padding-right:4px;color:#000">12/24/14</div>
<div class="t" style="left:383.50px;top:391.76px;width:61.00px;height:18.00px;line-height:18.00px;text-align:right;font-weight:bold;font-style:normal;font-size:13px;padding-right:4px;color:#000">101,000</div>
<div class="t" style="left:447.50px;top:391.76px;width:80.00px;height:18.00px;line-height:18.00px;text-align:center;font-weight:bold;font-style:normal;font-size:13px;color:#000">12/31/14</div>
<div class="t" style="left:528.50px;top:391.76px;width:84.00px;height:18.00px;line-height:18.00px;text-align:right;font-weight:bold;font-style:normal;font-size:13px;padding-right:4px;color:#000">107,071</div>
<div class="t" style="left:616.50px;top:391.76px;width:58.50px;height:18.00px;line-height:18.00px;text-align:right;font-weight:bold;font-style:normal;font-size:13px;padding-right:4px;color:#000">8</div>
<div class="t" style="left:679.00px;top:391.76px;width:85.00px;height:18.00px;line-height:18.00px;text-align:right;font-weight:bold;font-style:normal;font-size:13px;padding-right:3px;color:#000">759</div>
<div class="t" style="left:767.00px;top:391.76px;width:77.00px;height:18.00px;line-height:18.00px;text-align:right;font-weight:bold;font-style:normal;font-size:13px;padding-right:3px;color:#000">93.0%</div>
<div style="left:5.00px;top:409.35px;width:1002.00px;height:55.65px;background:#ffffff"></div>
<div class="t" style="left:5.00px;top:409.55px;width:243.00px;height:18.00px;line-height:18.00px;text-align:right;font-weight:bold;font-style:normal;font-size:13px;padding-right:3px;color:#000">Total:</div>
<div class="t" style="left:251.00px;top:409.55px;width:58.00px;height:18.00px;line-height:18.00px;text-align:right;font-weight:bold;font-style:normal;font-size:13px;padding-right:4px;color:#000">38,096</div>
<div class="t" style="left:616.50px;top:409.55px;width:58.50px;height:18.00px;line-height:18.00px;text-align:right;font-weight:bold;font-style:normal;font-size:13px;padding-right:4px;color:#000">Total:</div>
<div class="t" style="left:679.00px;top:409.55px;width:85.00px;height:18.00px;line-height:18.00px;text-align:right;font-weight:bold;font-style:normal;font-size:13px;padding-right:3px;color:#000">24,175</div>
<div class="t" style="left:767.00px;top:409.55px;width:77.00px;height:18.00px;line-height:18.00px;text-align:right;font-weight:bold;font-style:normal;font-size:13px;padding-right:3px;color:#000">63.46%</div>
<div style="left:252.00px;top:409.85px;width:0;height:0;border-top:5px solid #1e7321;border-right:5px solid transparent"></div>
<div style="left:680.00px;top:409.85px;width:0;height:0;border-top:5px solid #1e7321;border-right:5px solid transparent"></div>
<div class="t" style="left:5.00px;top:428.00px;width:305.00px;height:18.00px;line-height:18.00px;text-align:right;font-weight:normal;font-style:normal;font-size:13px;padding-right:3px;color:#000">Actual 2014 Daily Average:</div>
<div class="t" style="left:313.00px;top:428.00px;width:135.50px;height:18.00px;line-height:18.00px;text-align:center;font-weight:normal;font-style:normal;font-size:13px;color:#000">40,440</div>
<div class="t" style="left:448.00px;top:428.00px;width:80.00px;height:18.00px;line-height:18.00px;text-align:center;font-weight:normal;font-style:normal;font-size:12.7px;color:#000">Surge Factor:</div>
<div style="left:5.00px;top:447.00px;width:308.00px;height:18.00px;background:#fcee3a"></div>
<div style="left:313.00px;top:447.00px;width:135.50px;height:18.00px;background:#fcee3a"></div>
<div class="t" style="left:5.00px;top:447.00px;width:305.00px;height:18.00px;line-height:18.00px;text-align:right;font-weight:normal;font-style:normal;font-size:13.9px;padding-right:3px;color:#000">Estimated NEW DAILY ADDITIONS for 2015:</div>
<div class="t" style="left:313.00px;top:448.00px;width:135.50px;height:18.00px;line-height:18.00px;text-align:center;font-weight:bold;font-style:normal;font-size:16px;color:#000">25,663</div>
<div class="t" style="left:448.00px;top:447.50px;width:80.00px;height:18.00px;line-height:18.00px;text-align:center;font-weight:bold;font-style:normal;font-size:13px;color:#000">1</div>
<div style="left:4px;top:4px;width:1004px;height:2px;background:#000"></div>
<div style="left:4px;top:85px;width:1004px;height:2px;background:#000"></div>
<div style="left:4px;top:118px;width:1004px;height:2px;background:#000"></div>
<div style="left:4px;top:5px;width:2px;height:461px;background:#000"></div>
<div style="left:1006px;top:5px;width:2px;height:461px;background:#000"></div>
<div style="left:133px;top:86px;width:1px;height:324px;background:#000"></div>
<div style="left:174px;top:86px;width:1px;height:324px;background:#000"></div>
<div style="left:250px;top:86px;width:2px;height:324px;background:#000"></div>
<div style="left:312px;top:86px;width:2px;height:324px;background:#000"></div>
<div style="left:383px;top:86px;width:1px;height:324px;background:#000"></div>
<div style="left:448px;top:86px;width:1px;height:324px;background:#000"></div>
<div style="left:528px;top:86px;width:1px;height:324px;background:#000"></div>
<div style="left:616px;top:86px;width:2px;height:324px;background:#000"></div>
<div style="left:678px;top:86px;width:2px;height:324px;background:#000"></div>
<div style="left:766px;top:86px;width:2px;height:324px;background:#000"></div>
<div style="left:846px;top:86px;width:2px;height:324px;background:#000"></div>
<div style="left:5px;top:137px;width:1002px;height:2px;background:#000"></div>
<div style="left:5px;top:156px;width:842px;height:1px;background:#000"></div>
<div style="left:5px;top:174px;width:842px;height:1px;background:#000"></div>
<div style="left:848px;top:174px;width:158px;height:1px;background:#dcdcdc"></div>
<div style="left:5px;top:192px;width:842px;height:1px;background:#000"></div>
<div style="left:848px;top:192px;width:158px;height:1px;background:#dcdcdc"></div>
<div style="left:5px;top:210px;width:842px;height:1px;background:#000"></div>
<div style="left:848px;top:210px;width:158px;height:1px;background:#dcdcdc"></div>
<div style="left:5px;top:228px;width:842px;height:1px;background:#000"></div>
<div style="left:848px;top:228px;width:158px;height:1px;background:#dcdcdc"></div>
<div style="left:5px;top:246px;width:842px;height:1px;background:#000"></div>
<div style="left:5px;top:264px;width:842px;height:1px;background:#000"></div>
<div style="left:5px;top:282px;width:842px;height:1px;background:#000"></div>
<div style="left:5px;top:300px;width:842px;height:1px;background:#000"></div>
<div style="left:5px;top:318px;width:842px;height:1px;background:#000"></div>
<div style="left:848px;top:318px;width:158px;height:1px;background:#dcdcdc"></div>
<div style="left:5px;top:336px;width:842px;height:1px;background:#000"></div>
<div style="left:848px;top:336px;width:158px;height:1px;background:#dcdcdc"></div>
<div style="left:5px;top:355px;width:842px;height:1px;background:#000"></div>
<div style="left:5px;top:373px;width:842px;height:1px;background:#000"></div>
<div style="left:5px;top:391px;width:842px;height:1px;background:#000"></div>
<div style="left:5px;top:408px;width:1002px;height:2px;background:#000"></div>
<div style="left:448px;top:300px;width:81px;height:1px;background:#14145a"></div>
<div style="left:448px;top:318px;width:81px;height:1px;background:#14145a"></div>
<div style="left:448px;top:300px;width:1px;height:20px;background:#14145a"></div>
<div style="left:528px;top:300px;width:1px;height:20px;background:#14145a"></div>
<div style="left:251px;top:409px;width:1px;height:19px;background:#000"></div>
<div style="left:312px;top:409px;width:2px;height:19px;background:#000"></div>
<div style="left:313px;top:428px;width:1px;height:19px;background:#dcdcdc"></div>
<div style="left:312px;top:447px;width:2px;height:18px;background:#000"></div>
<div style="left:679px;top:409px;width:1px;height:19px;background:#000"></div>
<div style="left:766px;top:409px;width:2px;height:19px;background:#000"></div>
<div style="left:767px;top:428px;width:1px;height:37px;background:#dcdcdc"></div>
<div style="left:846px;top:409px;width:2px;height:56px;background:#000"></div>
<div style="left:5px;top:427px;width:842px;height:2px;background:#000"></div>
<div style="left:848px;top:428px;width:158px;height:1px;background:#dcdcdc"></div>
<div style="left:447px;top:428px;width:2px;height:37px;background:#000"></div>
<div style="left:527px;top:428px;width:2px;height:37px;background:#000"></div>
<div style="left:5px;top:446px;width:444px;height:2px;background:#000"></div>
<div style="left:448px;top:447px;width:81px;height:1px;background:#000"></div>
<div style="left:848px;top:447px;width:158px;height:1px;background:#dcdcdc"></div>
<div style="left:4px;top:464px;width:1004px;height:2px;background:#000"></div>
</body></html>
